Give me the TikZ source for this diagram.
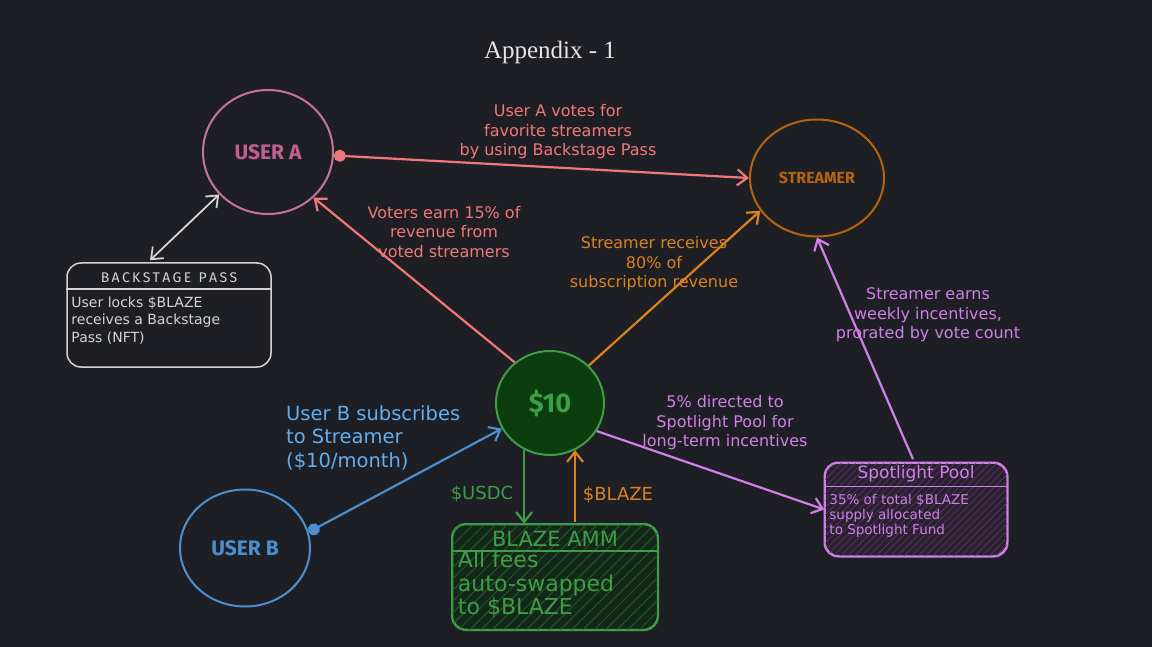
\documentclass[tikz,border=0pt]{standalone}
\usepackage{fontspec}
\setmainfont{Liberation Serif}
\newfontfamily\hand{DejaVu Sans}
\newfontfamily\heavy{Fira Sans}
\usetikzlibrary{arrows.meta,shapes.geometric,patterns.meta,calc}
\definecolor{bg}{HTML}{1E1F24}
\definecolor{titlec}{HTML}{E6E6E6}
\definecolor{salmon}{HTML}{F07878}
\definecolor{pinkc}{HTML}{C8729C}
\definecolor{pinkt}{HTML}{C0608F}
\definecolor{brownc}{HTML}{B5640E}
\definecolor{orangec}{HTML}{D9821E}
\definecolor{greenc}{HTML}{3E9E47}
\definecolor{greenf}{HTML}{0B3D0E}
\definecolor{greenh}{HTML}{1F5A25}
\definecolor{greenbg}{HTML}{15261A}
\definecolor{bluec}{HTML}{4B8FD0}
\definecolor{bluet}{HTML}{62AEF0}
\definecolor{purplec}{HTML}{D080E8}
\definecolor{purpleh}{HTML}{5A3A66}
\definecolor{purplebg}{HTML}{2A2030}
\definecolor{lightc}{HTML}{D4D4D4}
\begin{document}
\begin{tikzpicture}[x=1pt,y=-1pt,
  circ/.style={ellipse,draw,line width=2pt,inner sep=0pt},
  arr/.style={line width=2.2pt,-{Straight Barb[length=10pt,width=16pt]}},
  dotarr/.style={line width=2.2pt,{Circle[length=12pt]}-{Straight Barb[length=10pt,width=16pt]}},
  lbl/.style={align=center,inner sep=0pt,font=\hand\fontsize{16}{19.5}\selectfont},
  box/.style={draw,line width=1.5pt,rounded corners=14pt,inner sep=0pt},
  boxtext/.style={anchor=north west,align=left,inner sep=0pt}
]
\fill[bg] (0,0) rectangle (1152,647);
\useasboundingbox (0,0) rectangle (1152,647);

% title
\node[text=titlec,font=\fontsize{25}{30}\selectfont] (title) at (550,52) {Appendix - 1};

% circles
\node[circ,draw=pinkc,text=pinkt,minimum width=130pt,minimum height=124pt,font=\heavy\bfseries\fontsize{21}{25}\selectfont] (ua) at (268,152) {USER A};
\node[circ,draw=brownc,text=brownc,minimum width=134pt,minimum height=117pt,font=\heavy\bfseries\fontsize{16}{20}\selectfont] (st) at (817,178) {STREAMER};
\node[circ,draw=greenc,fill=greenf,text=greenc,minimum width=108pt,minimum height=104pt,font=\heavy\bfseries\fontsize{27}{32}\selectfont] (ten) at (550,403) {\$10};
\node[circ,draw=bluec,text=bluec,minimum width=130pt,minimum height=117pt,font=\heavy\bfseries\fontsize{21}{25}\selectfont] (ub) at (245,548) {USER B};

% Backstage pass box
\node[box,draw=lightc,minimum width=204pt,minimum height=104pt] (bp) at (169,315) {};
\draw[lightc,line width=1.5pt] ($(bp.north west)+(0,27)$) -- ($(bp.north east)+(0,27)$);
\node[text=lightc,inner sep=0pt,font=\heavy\fontsize{14}{17}\selectfont] (bphead) at ($(bp.north)+(0,15)$) {B\,A\,C\,K\,S\,T\,A\,G\,E\ \ P\,A\,S\,S};
\node[boxtext,text=lightc,font=\hand\fontsize{14}{17.5}\selectfont] (bpbody) at ($(bp.north west)+(5,34)$) {User locks \$BLAZE\\receives a Backstage\\Pass (NFT)};

% BLAZE AMM box
\node[box,draw=greenc,fill=greenbg,minimum width=205pt,minimum height=105pt] (amm) at (555,577) {};
\begin{scope}
\clip[rounded corners=14pt] (amm.south west) rectangle (amm.north east);
\fill[pattern={Lines[angle=45,distance=8pt,line width=1pt]},pattern color=greenh] (amm.south west) rectangle (amm.north east);
\end{scope}
\draw[greenc,line width=1.5pt,rounded corners=14pt] (amm.south west) rectangle (amm.north east);
\draw[greenc,line width=1.5pt] ($(amm.north west)+(0,27)$) -- ($(amm.north east)+(0,27)$);
\node[text=greenc,inner sep=0pt,font=\hand\fontsize{21}{22}\selectfont] (ammhead) at ($(amm.north)+(0,15)$) {BLAZE AMM};
\node[boxtext,text=greenc,font=\hand\fontsize{22}{23.5}\selectfont] (ammbody) at ($(amm.north west)+(6,27)$) {All fees\\auto-swapped\\to \$BLAZE};

% Spotlight pool box
\node[box,draw=purplec,fill=purplebg,minimum width=182pt,minimum height=93pt] (sp) at (916,509.5) {};
\begin{scope}
\clip[rounded corners=14pt] (sp.south west) rectangle (sp.north east);
\fill[pattern={Lines[angle=45,distance=5pt,line width=0.6pt]},pattern color=purpleh] (sp.south west) rectangle (sp.north east);
\end{scope}
\draw[purplec,line width=1.5pt,rounded corners=14pt] (sp.south west) rectangle (sp.north east);
\draw[purplec,line width=1.5pt] ($(sp.north west)+(0,24)$) -- ($(sp.north east)+(0,24)$);
\node[text=purplec,inner sep=0pt,font=\hand\fontsize{17}{17}\selectfont] (sphead) at ($(sp.north)+(0,12)$) {Spotlight Pool};
\node[boxtext,text=purplec,font=\hand\fontsize{13.5}{15}\selectfont] (spbody) at ($(sp.north west)+(5,32)$) {35\% of total \$BLAZE\\supply allocated\\to Spotlight Fund};

% connectors
\draw[dotarr,salmon] (ua.-3) -- (st.180);
\draw[line width=1.8pt,lightc,{Straight Barb[length=10pt,width=16pt]}-{Straight Barb[length=10pt,width=16pt]}] ($(bp.north)+(-19,-2)$) -- (ua.-139);
\draw[arr,salmon] (ten.131) -- (ua.-45);
\draw[arr,orangec] (ten.44) -- (st.210);
\draw[dotarr,bluec] (ub.14) -- (ten.208);
\draw[arr,purplec] (ten.-31) -- (sp.west);
\draw[arr,purplec] ($(sp.north)+(-3,-3)$) -- (st.-90);
\draw[arr,greenc] (ten.-119) -- (ten.-119 |- amm.north);
\draw[arr,orangec] ($(ten.-62 |- amm.north)+(0,-2)$) -- (ten.-62);

% labels
\node[lbl,text=salmon] (votes) at (558,132) {User A votes for\\favorite streamers\\by using Backstage Pass};
\node[lbl,text=salmon] (voters) at (444,232) {Voters earn 15\% of\\revenue from\\voted streamers};
\node[lbl,text=orangec] (strec) at (654,264) {Streamer receives\\80\% of\\subscription revenue};
\node[lbl,text=bluet,anchor=west,align=left,font=\hand\fontsize{19.5}{23.5}\selectfont] (subs) at (286,438) {User B subscribes\\to Streamer\\(\$10/month)};
\node[lbl,text=purplec] (five) at (725,423) {5\% directed to\\Spotlight Pool for\\long-term incentives};
\node[lbl,text=purplec] (earn) at (928,315) {Streamer earns\\weekly incentives,\\prorated by vote count};
\node[lbl,text=greenc,font=\hand\fontsize{18}{20}\selectfont] (usdc) at (482,494) {\$USDC};
\node[lbl,text=orangec,font=\hand\fontsize{18}{20}\selectfont] (blz) at (618,495) {\$BLAZE};
\end{tikzpicture}
\end{document}
